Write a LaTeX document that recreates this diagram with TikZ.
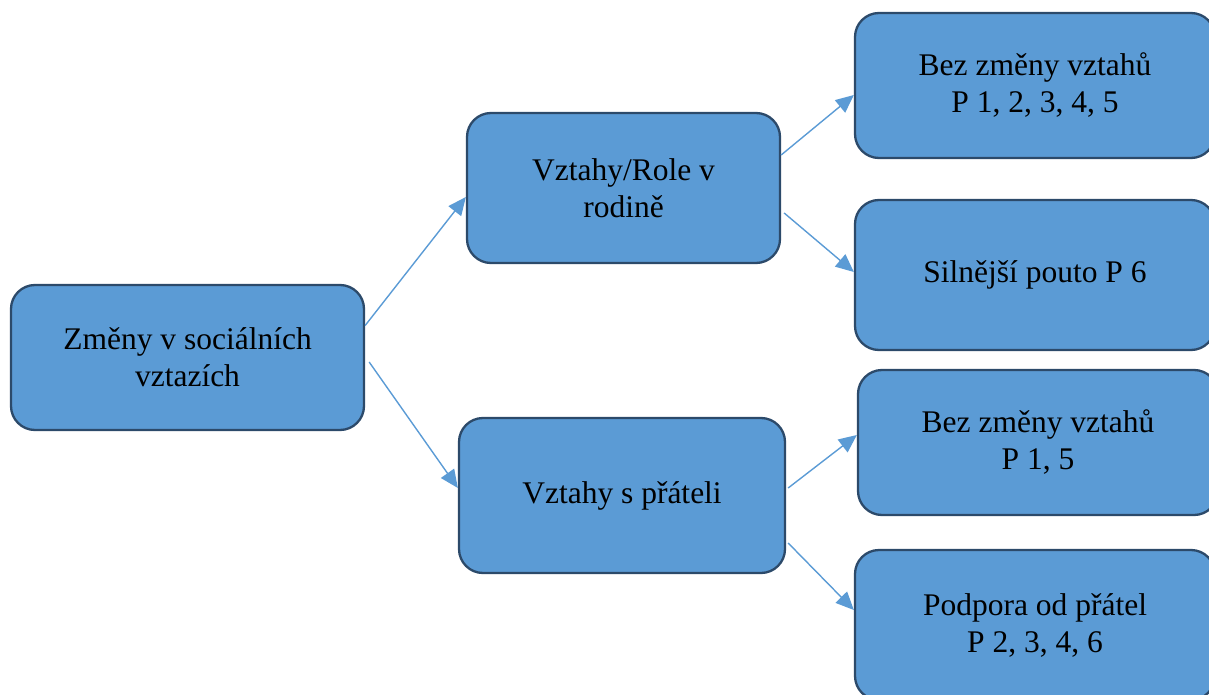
\documentclass[tikz,border=0pt]{standalone}
\usepackage{fontspec}
\setmainfont{Liberation Serif}
\usetikzlibrary{arrows.meta}
\definecolor{boxfill}{HTML}{5B9BD5}
\definecolor{boxline}{HTML}{2C4A6A}
\definecolor{arrowc}{HTML}{5B9BD5}
\tikzset{
  box/.style={draw=boxline, fill=boxfill, line width=2.3pt, rounded corners=24pt,
    align=center, inner sep=0pt, font=\fontsize{31.5}{37}\selectfont, text=black},
  conn/.style={draw=arrowc, line width=1.4pt, -{Triangle[length=18pt,width=16pt]}}
}
\begin{document}
\begin{tikzpicture}[x=1pt,y=-1pt]
\useasboundingbox (0,0) rectangle (1209,695);
\clip (0,0) rectangle (1209,695);
\node[box, minimum width=353pt, minimum height=145pt] (A) at (187.5,357.5) {Změny v sociálních\\vztazích};
\node[box, minimum width=313pt, minimum height=150pt] (B) at (623.5,188) {Vztahy/Role v\\rodině};
\node[box, minimum width=326pt, minimum height=155pt] (C) at (622,495.5) {Vztahy s přáteli};
\node[box, minimum width=360pt, minimum height=145pt] (D1) at (1035,85.5) {Bez změny vztahů\\P 1, 2, 3, 4, 5};
\node[box, minimum width=360pt, minimum height=150pt] (D2) at (1035,275) {Silnější pouto P 6};
\node[box, minimum width=360pt, minimum height=145pt] (D3) at (1038,442.5) {Bez změny vztahů\\P 1, 5};
\node[box, minimum width=360pt, minimum height=150pt] (D4) at (1035,625) {Podpora od přátel\\P 2, 3, 4, 6};
\draw[conn] ([yshift=32pt]A.east) -- ([yshift=-9pt]B.west);
\draw[conn] ([xshift=4pt,yshift=-4.5pt]A.east) -- ([yshift=7.5pt]C.west);
\draw[conn] ([yshift=33pt]B.east) -- ([yshift=-9.5pt]D1.west);
\draw[conn] ([xshift=3pt,yshift=-25pt]B.east) -- ([yshift=3pt]D2.west);
\draw[conn] ([xshift=2pt,yshift=7.5pt]C.east) -- ([yshift=7.5pt]D3.west);
\draw[conn] ([xshift=2pt,yshift=-47.5pt]C.east) -- ([yshift=15pt]D4.west);
\end{tikzpicture}
\end{document}
